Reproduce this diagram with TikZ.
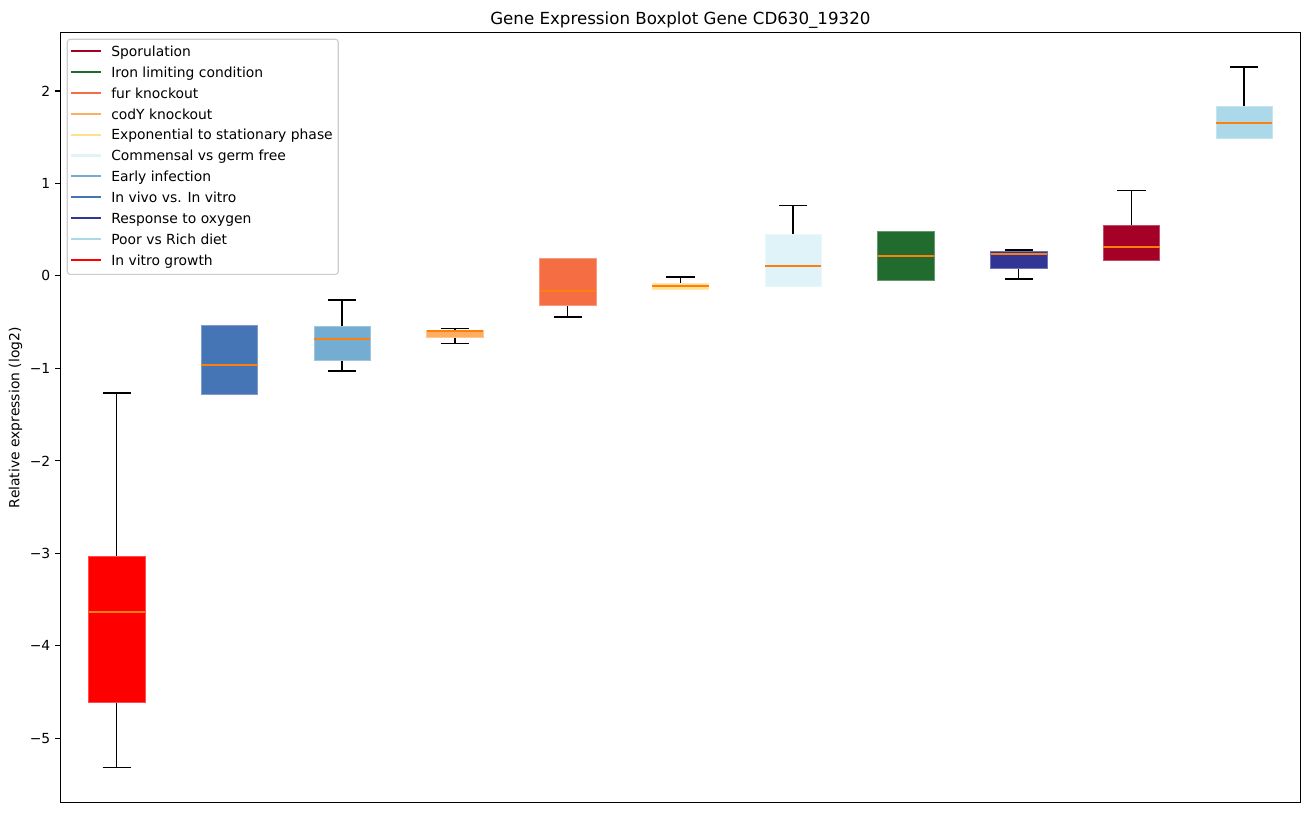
\documentclass[tikz,border=0pt]{standalone}
\usepackage{fontspec}
\setmainfont{DejaVu Sans}
\definecolor{cSpor}{HTML}{A50026}
\definecolor{cIron}{HTML}{226B2F}
\definecolor{cFur}{HTML}{F46D43}
\definecolor{cCody}{HTML}{FDAE61}
\definecolor{cExp}{HTML}{FEE090}
\definecolor{cComm}{HTML}{E0F3F8}
\definecolor{cEarly}{HTML}{74ADD1}
\definecolor{cVivo}{HTML}{4575B4}
\definecolor{cOxy}{HTML}{313695}
\definecolor{cPoor}{HTML}{ABD9E9}
\definecolor{cVitro}{HTML}{FF0000}
\definecolor{cMed}{HTML}{FF7F0E}
\definecolor{cLeg}{HTML}{CCCCCC}
\newcommand{\bxplot}[7]{%
  % #1 center x, #2 wlo, #3 q1, #4 med, #5 q3, #6 whi, #7 colour
  \draw[whisk] (#1,#3) -- (#1,#2);
  \draw[whisk] (#1,#5) -- (#1,#6);
  \draw[whisk] ({#1-14.1},#2) -- ({#1+14.1},#2);
  \draw[whisk] ({#1-14.1},#6) -- ({#1+14.1},#6);
  \fill[#7] ({#1-28.2},#3) rectangle ({#1+28.2},#5);
  \draw[#7!70!white, line width=0.5pt] ({#1-28.2},#3) rectangle ({#1+28.2},#5);
  \draw[medline] ({#1-28.2},#4) -- ({#1+28.2},#4);
}
\begin{document}
\begin{tikzpicture}[x=0.72pt,y=-0.72pt,
  whisk/.style={black, line width=1.05pt},
  medline/.style={cMed, line width=1.2pt},
  ticklab/.style={anchor=east, inner sep=0pt, font=\fontsize{10}{12}\selectfont},
  legtext/.style={anchor=base west, inner sep=0pt, font=\fontsize{10}{12}\selectfont},
  legline/.style={line width=1.5pt},
  frame/.style={black, line width=0.8pt}]
\useasboundingbox (0,0) rectangle (1309,812);
\fill[white] (0,0) rectangle (1309,812);

% boxes
\bxplot{116.7}{767.3}{702.3}{612.3}{556}{393}{cVitro}
\bxplot{229.4}{394}{394}{365.3}{325.3}{325.3}{cVivo}
\bxplot{342.2}{371}{360.7}{339.3}{326.7}{300}{cEarly}
\bxplot{454.9}{343.3}{337.3}{331}{330}{328.7}{cCody}
\bxplot{567.7}{317}{305}{291}{258.7}{258.7}{cFur}
\bxplot{680.4}{289}{289}{286.3}{283}{277}{cExp}
\bxplot{793.2}{286}{286}{266.3}{234.7}{205.7}{cComm}
\bxplot{905.9}{280.7}{280.7}{256.3}{231.7}{231.7}{cIron}
\bxplot{1018.7}{279}{268}{254.3}{251.3}{250}{cOxy}
\bxplot{1131.4}{260}{260}{247.3}{225.7}{190.3}{cSpor}
\bxplot{1244.2}{138}{138}{123.3}{106}{67}{cPoor}

% axes frame
\draw[frame] (60.3,32.7) rectangle (1300.5,802.7);

% y ticks
\foreach \v/\lab in {2/2,1/1,0/0,-1/{−1},-2/{−2},-3/{−3},-4/{−4},-5/{−5}}{
  \pgfmathsetmacro{\yy}{275.9-92.47*\v}
  \draw[frame] (60.3,\yy) -- (55.4,\yy);
  \node[ticklab] (tick\v) at (50.6,\yy) {\lab};
}

% labels
\node[anchor=base, inner sep=0pt, font=\fontsize{12}{14}\selectfont] (title) at (680.4,24.4) {Gene Expression Boxplot Gene CD630\_19320};
\node[anchor=base, rotate=90, inner sep=0pt, font=\fontsize{10}{12}\selectfont] (ylab) at (19.3,417.7) {Relative expression (log2)};

% legend
\draw[cLeg, fill=white, line width=0.8pt, rounded corners=2pt] (67.3,39.3) rectangle (338.3,274.3);
\foreach \i/\c/\t in {0/cSpor/Sporulation,1/cIron/Iron limiting condition,2/cFur/fur knockout,3/cCody/codY knockout,4/cExp/Exponential to stationary phase,5/cComm/Commensal vs germ free,6/cEarly/Early infection,7/cVivo/In vivo vs. In vitro,8/cOxy/Response to oxygen,9/cPoor/Poor vs Rich diet,10/cVitro/In vitro growth}{
  \pgfmathsetmacro{\ry}{51+20.9*\i}
  \coordinate (ls\i) at (71,\ry);
  \coordinate (le\i) at (101,\ry);
  \draw[legline, \c] (ls\i) -- (le\i);
  \node[legtext] (leg\i) at (111,\ry+5.3) {\t};
}
\end{tikzpicture}
\end{document}
